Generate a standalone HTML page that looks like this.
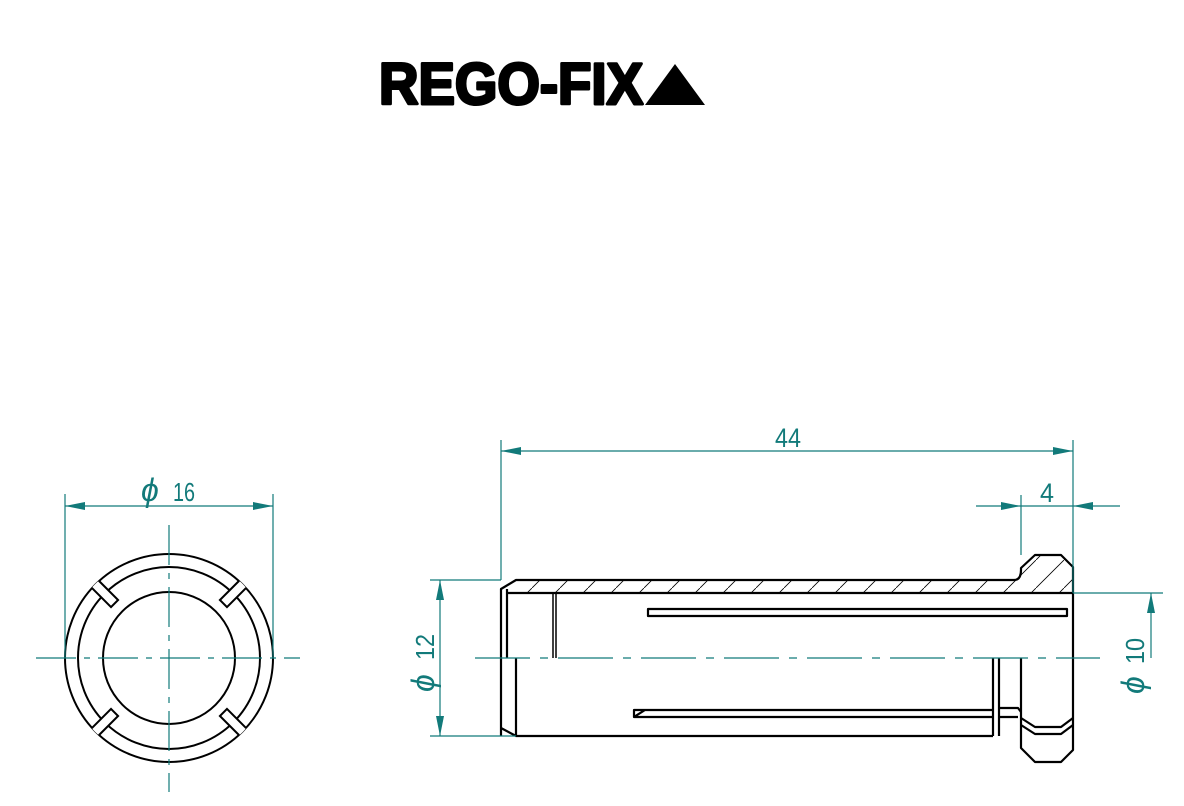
<!DOCTYPE html>
<html><head><meta charset="utf-8"><style>
html,body{margin:0;padding:0;background:#fff;}
svg{display:block;}
</style></head><body>
<svg width="1184" height="806" viewBox="0 0 1184 806" xmlns="http://www.w3.org/2000/svg">
<defs>
<marker id="a" viewBox="0 0 20 8" refX="20" refY="4" markerWidth="20" markerHeight="8" markerUnits="userSpaceOnUse" orient="auto-start-reverse"><path d="M0,0 L20,4 L0,8 z" fill="#127a7a"/></marker>
<clipPath id="cc"><circle cx="169" cy="658" r="104.5"/></clipPath>
<pattern id="h" width="28" height="28" patternUnits="userSpaceOnUse"><path d="M0,28 L28,0" stroke="#000" stroke-width="0.8"/></pattern>
</defs>
<!-- logo -->
<text x="379" y="104" font-family="Liberation Sans, sans-serif" font-weight="900" font-size="58" textLength="264" lengthAdjust="spacingAndGlyphs" fill="#000" stroke="#000" stroke-width="3" stroke-linejoin="round">REGO-FIX</text>
<polygon points="645,105 675,64 705,105" fill="#000"/>

<!-- left view -->
<g fill="none" stroke="#000" stroke-width="2">
<circle cx="169" cy="658" r="104"/>
<circle cx="169" cy="658" r="91"/>
<circle cx="169" cy="658" r="66"/>
</g>
<g clip-path="url(#cc)">
<g transform="translate(169,658)">
<path d="M112,-5 L77,-5 L77,5 L112,5" fill="#fff" stroke="#000" stroke-width="2" transform="rotate(-45)"/>
<path d="M112,-5 L77,-5 L77,5 L112,5" fill="#fff" stroke="#000" stroke-width="2" transform="rotate(-135)"/>
<path d="M112,-5 L77,-5 L77,5 L112,5" fill="#fff" stroke="#000" stroke-width="2" transform="rotate(45)"/>
<path d="M112,-5 L77,-5 L77,5 L112,5" fill="#fff" stroke="#000" stroke-width="2" transform="rotate(135)"/>
</g></g>
<g stroke="#127a7a" stroke-width="1.2" fill="none">
<line x1="36" y1="658" x2="300" y2="658" stroke-dasharray="40,8,6,8"/>
<line x1="169" y1="525" x2="169" y2="792" stroke-dasharray="40,8,6,8"/>
<line x1="65" y1="494" x2="65" y2="658"/>
<line x1="273" y1="494" x2="273" y2="658"/>
<line x1="65" y1="506" x2="273" y2="506" marker-start="url(#a)" marker-end="url(#a)"/>
</g>
<text x="141" y="501" font-family="Liberation Sans, sans-serif" font-size="32" fill="#127a7a" font-style="italic">ϕ</text>
<text x="173" y="501" font-family="Liberation Sans, sans-serif" font-size="26" fill="#127a7a" textLength="22" lengthAdjust="spacingAndGlyphs">16</text>

<!-- right view hatch -->
<path d="M516,580 L1017,580 Q1021,579 1021,570 L1035,555 L1061,555 L1073,567 L1073,593 L516,593 Z" fill="url(#h)"/>
<g fill="none" stroke="#000" stroke-width="2.2" stroke-linejoin="round">
<path d="M501,736 L501,589 L516,580 L1014,580 Q1021,580 1021,570 L1021,568 L1035,555 L1061,555 L1073,567 L1073,750 L1061,762 L1035,762 L1021,748 L1021,658"/>
<line x1="507" y1="593" x2="1073" y2="593"/>
<line x1="507" y1="589" x2="507" y2="658"/>
<line x1="553" y1="593" x2="553" y2="658" stroke-width="1.5"/>
<line x1="556" y1="593" x2="556" y2="658" stroke-width="1.5"/>
<line x1="516" y1="658" x2="516" y2="736"/>
<path d="M501,728 L516,736 L993,736"/>
<rect x="648" y="609" width="419" height="7"/>
<path d="M993,710 L634,710 L634,717 L993,717 M634,717 L645,710"/>
<line x1="993" y1="658" x2="993" y2="736"/>
<line x1="999" y1="658" x2="999" y2="736"/>
<path d="M999,708 L1018,708 L1021,712"/>
<path d="M999,717 L1018,717"/>
<path d="M1021,718 L1035,727 L1061,727 L1073,718"/>
<path d="M1021,725 L1035,734 L1061,734 L1073,725"/>
</g>
<g stroke="#127a7a" stroke-width="1.2" fill="none">
<line x1="475" y1="658" x2="1100" y2="658" stroke-dasharray="55,10,8,10"/>
<line x1="501" y1="440" x2="501" y2="580"/>
<line x1="1073" y1="440" x2="1073" y2="593"/>
<line x1="501" y1="451" x2="1073" y2="451" marker-start="url(#a)" marker-end="url(#a)"/>
<line x1="1021" y1="495" x2="1021" y2="555"/>
<line x1="976" y1="506" x2="1021" y2="506" marker-end="url(#a)"/>
<line x1="1120" y1="506" x2="1073" y2="506" marker-end="url(#a)"/>
<line x1="1021" y1="506" x2="1073" y2="506"/>
<line x1="430" y1="580" x2="501" y2="580"/>
<line x1="430" y1="736" x2="516" y2="736"/>
<line x1="440" y1="580" x2="440" y2="736" marker-start="url(#a)" marker-end="url(#a)"/>
<line x1="1073" y1="593" x2="1163" y2="593"/>
<line x1="1151" y1="658" x2="1151" y2="593" marker-end="url(#a)"/>
</g>
<text x="775" y="447" font-family="Liberation Sans, sans-serif" font-size="27" fill="#127a7a" textLength="26" lengthAdjust="spacingAndGlyphs">44</text>
<text x="1040" y="502" font-family="Liberation Sans, sans-serif" font-size="27" fill="#127a7a" textLength="14" lengthAdjust="spacingAndGlyphs">4</text>
<g transform="translate(434,658) rotate(-90)">
<text x="-34" y="0" font-family="Liberation Sans, sans-serif" font-size="32" fill="#127a7a" font-style="italic">ϕ</text>
<text x="-2" y="0" font-family="Liberation Sans, sans-serif" font-size="26" fill="#127a7a" textLength="26" lengthAdjust="spacingAndGlyphs">12</text>
</g>
<g transform="translate(1144,662) rotate(-90)">
<text x="-32" y="0" font-family="Liberation Sans, sans-serif" font-size="32" fill="#127a7a" font-style="italic">ϕ</text>
<text x="-2" y="0" font-family="Liberation Sans, sans-serif" font-size="26" fill="#127a7a" textLength="26" lengthAdjust="spacingAndGlyphs">10</text>
</g>
</svg>
</body></html>
